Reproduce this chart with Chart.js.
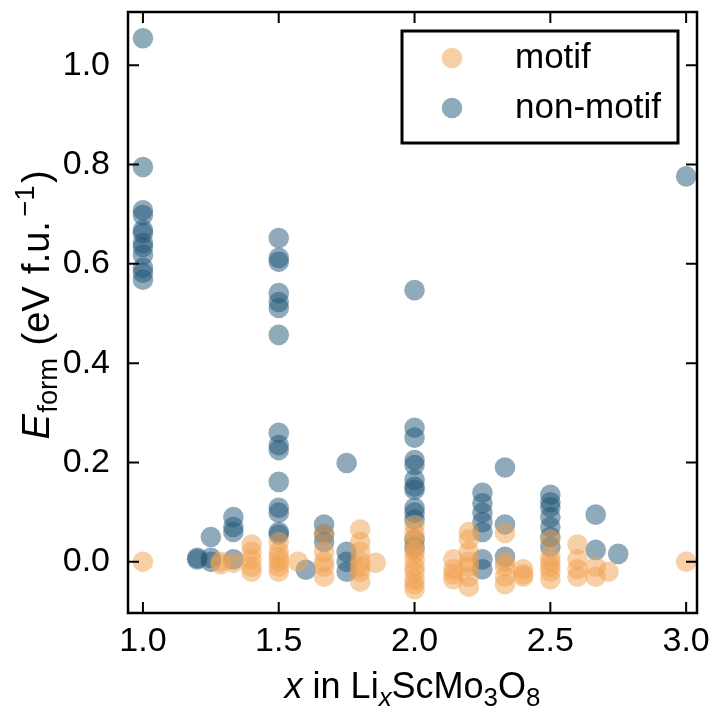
<!DOCTYPE html>
<html>
<head>
<meta charset="utf-8">
<script src="https://cdn.jsdelivr.net/npm/chart.js@4.4.1/dist/chart.umd.min.js"></script>
<style>
html,body{margin:0;padding:0;background:#fff;}
#wrap{width:709px;height:709px;position:relative;}
</style>
</head>
<body>
<div id="wrap"><canvas id="c" width="709" height="709"></canvas></div>
<script>
// ---- data ----
const motifX = [1.0, 1.286, 1.286, 1.333,
  1.4, 1.4, 1.4, 1.4, 1.4,
  1.5, 1.5, 1.5, 1.5, 1.5, 1.5,
  1.571,
  1.667, 1.667, 1.667, 1.667, 1.667,
  1.8, 1.8, 1.8, 1.8, 1.8, 1.8, 1.8,
  1.857,
  2.0, 2.0, 2.0, 2.0, 2.0, 2.0, 2.0, 2.0, 2.0, 2.0, 2.0,
  2.143, 2.143, 2.143, 2.143,
  2.2, 2.2, 2.2, 2.2, 2.2, 2.2, 2.2,
  2.333, 2.333, 2.333, 2.333, 2.333,
  2.4, 2.4, 2.4,
  2.5, 2.5, 2.5, 2.5, 2.5, 2.5,
  2.6, 2.6, 2.6, 2.6,
  2.667, 2.667,
  2.714,
  3.0];
const motifY = [0.0, 0.0, -0.005, -0.002,
  0.035, 0.02, 0.005, -0.01, -0.02,
  0.04, 0.02, 0.01, 0.0, -0.01, -0.02,
  0.0,
  0.055, 0.02, 0.0, -0.01, -0.03,
  0.065, 0.04, 0.02, 0.0, -0.01, -0.02, -0.04,
  -0.002,
  0.074, 0.058, 0.045, 0.025, 0.018, 0.004, -0.01, -0.02, -0.035, -0.045, -0.055,
  0.005, -0.015, -0.025, -0.035,
  0.06, 0.045, 0.02, 0.0, -0.01, -0.03, -0.05,
  0.058, 0.0, -0.01, -0.03, -0.045,
  -0.015, -0.025, -0.03,
  0.045, 0.01, 0.0, -0.01, -0.02, -0.035,
  0.035, 0.005, -0.015, -0.03,
  -0.01, -0.03,
  -0.02,
  0.0];

const nonMotifX = [1.0, 1.0, 1.0, 1.0, 1.0, 1.0, 1.0, 1.0, 1.0, 1.0, 1.0, 1.0,
  1.2, 1.2,
  1.25, 1.25, 1.25,
  1.333, 1.333, 1.333, 1.333,
  1.5, 1.5, 1.5, 1.5, 1.5, 1.5, 1.5, 1.5, 1.5, 1.5, 1.5, 1.5, 1.5, 1.5, 1.5,
  1.6,
  1.667, 1.667, 1.667,
  1.75, 1.75, 1.75, 1.75,
  2.0, 2.0, 2.0, 2.0, 2.0, 2.0, 2.0, 2.0, 2.0, 2.0, 2.0, 2.0, 2.0,
  2.25, 2.25, 2.25, 2.25, 2.25, 2.25, 2.25,
  2.333, 2.333, 2.333,
  2.5, 2.5, 2.5, 2.5, 2.5, 2.5, 2.5,
  2.667, 2.667,
  2.75,
  3.0];
const nonMotifY = [1.054, 0.795, 0.708, 0.698, 0.668, 0.662, 0.642, 0.634, 0.618, 0.592, 0.582, 0.568,
  0.005, 0.008,
  0.05, 0.008, 0.0,
  0.09, 0.07, 0.06, 0.005,
  0.652, 0.612, 0.604, 0.541, 0.523, 0.511, 0.457, 0.26, 0.235, 0.225, 0.161, 0.109, 0.099, 0.06, 0.055,
  -0.016,
  0.075, 0.055, 0.04,
  0.199, 0.02, 0.0, -0.02,
  0.547, 0.27, 0.25, 0.205, 0.195, 0.165, 0.151, 0.145, 0.109, 0.099, 0.085, 0.045, 0.03,
  0.139, 0.118, 0.099, 0.08, 0.06, 0.005, -0.015,
  0.19, 0.075, 0.01,
  0.135, 0.12, 0.11, 0.09, 0.07, 0.05, 0.03,
  0.095, 0.024,
  0.016,
  0.776];

const xTicks = [1.0, 1.5, 2.0, 2.5, 3.0];
const yTicks = [0.0, 0.2, 0.4, 0.6, 0.8, 1.0];
const seriesLabels = ['motif', 'non-motif'];

// ---- styling ----
const ORANGE = 'rgba(241,161,79,0.5)';
const BLUE = 'rgba(31,85,119,0.5)';
const FONT = '"Liberation Sans", Arial, Helvetica, sans-serif';
const TICK_SIZE = 34;
const TITLE_SIZE = 36;
const YTITLE_SIZE = 38;
const LEGEND_SIZE = 35;

function richText(ctx, segs, size, cx, cy) {
  // segs: [text, italic, 'sub'|'sup'|null, extraGapBefore]
  const parts = segs.map(([t, it, sc, gap]) => {
    const fs = sc ? size * 0.72 : size;
    const f = (it ? 'italic ' : '') + fs + 'px ' + FONT;
    ctx.font = f;
    return {t, f, g: (gap || 0) * size, w: ctx.measureText(t).width,
            dy: sc === 'sub' ? size * 0.22 : (sc === 'sup' ? -size * 0.4 : 0)};
  });
  const total = parts.reduce((a, p) => a + p.w + p.g, 0);
  let x = cx - total / 2;
  ctx.textBaseline = 'alphabetic';
  ctx.textAlign = 'left';
  ctx.fillStyle = '#000';
  parts.forEach(p => { x += p.g; ctx.font = p.f; ctx.fillText(p.t, x, cy + p.dy); x += p.w; });
}

const zeroPad = s => { s.paddingTop = 0; s.paddingBottom = 0; s.paddingLeft = 0; s.paddingRight = 0; };

const decor = {
  id: 'decor',
  afterDatasetsDraw(chart) {
    const {ctx, chartArea: a, scales: {x, y}} = chart;
    ctx.save();
    ctx.strokeStyle = '#000';
    ctx.lineWidth = 2;
    const L = 11;
    ctx.beginPath();
    xTicks.forEach(v => {
      const px = x.getPixelForValue(v);
      ctx.moveTo(px, a.bottom); ctx.lineTo(px, a.bottom - L);
      ctx.moveTo(px, a.top); ctx.lineTo(px, a.top + L);
    });
    yTicks.forEach(v => {
      const py = y.getPixelForValue(v);
      ctx.moveTo(a.left, py); ctx.lineTo(a.left + L, py);
      ctx.moveTo(a.right, py); ctx.lineTo(a.right - L, py);
    });
    ctx.stroke();
    ctx.lineWidth = 2.5;
    ctx.strokeRect(a.left, a.top, a.right - a.left, a.bottom - a.top);

    // legend
    const lx = 402, ly = 31, lw = 276, lh = 112;
    ctx.fillStyle = '#fff';
    ctx.fillRect(lx, ly, lw, lh);
    ctx.lineWidth = 3;
    ctx.strokeRect(lx, ly, lw, lh);
    const cols = [ORANGE, BLUE];
    seriesLabels.forEach((lab, i) => {
      const cy = 58 + i * 50;
      ctx.fillStyle = cols[i];
      ctx.beginPath(); ctx.arc(452, cy, 10.3, 0, Math.PI * 2); ctx.fill();
      ctx.fillStyle = '#000';
      ctx.font = LEGEND_SIZE + 'px ' + FONT;
      ctx.textBaseline = 'middle';
      ctx.textAlign = 'left';
      ctx.fillText(lab, 515, cy);
    });

    richText(ctx, [['x', true, null], [' in Li', false, null], ['x', true, 'sub'], ['ScMo', false, null], ['3', false, 'sub'], ['O', false, null], ['8', false, 'sub']],
      TITLE_SIZE, (a.left + a.right) / 2, 698);
    ctx.save();
    ctx.translate(49, 305);
    ctx.rotate(-Math.PI / 2);
    richText(ctx, [['E', true, null], ['form', false, 'sub', 0.04], [' (eV', false, null, 0.05], [' f.u.', false, null, 0.05],
                   ['\u22121', false, 'sup', 0.12], [')', false, null, 0.06]],
      YTITLE_SIZE, 0, 0);
    ctx.restore();
    ctx.restore();
  }
};

new Chart(document.getElementById('c'), {
  type: 'scatter',
  data: {
    datasets: [
      {label: seriesLabels[0], data: motifX.map((v, i) => ({x: v, y: motifY[i]})),
       backgroundColor: ORANGE, borderWidth: 0, pointRadius: 10.3, pointHoverRadius: 10.3},
      {label: seriesLabels[1], data: nonMotifX.map((v, i) => ({x: v, y: nonMotifY[i]})),
       backgroundColor: BLUE, borderWidth: 0, pointRadius: 10.3, pointHoverRadius: 10.3}
    ]
  },
  options: {
    responsive: false,
    animation: false,
    devicePixelRatio: 1,
    layout: {autoPadding: false, padding: {left: 0, top: 12, right: 12, bottom: 0}},
    plugins: {legend: {display: false}, tooltip: {enabled: false}},
    scales: {
      x: {
        type: 'linear', min: 0.945, max: 3.04,
        grid: {display: false, drawTicks: false},
        border: {display: false},
        afterBuildTicks: s => { s.ticks = xTicks.map(v => ({value: v})); },
        afterFit: s => { s.height = 96; zeroPad(s); },
        ticks: {color: '#000', padding: 8, font: {family: FONT, size: TICK_SIZE}, maxRotation: 0,
                callback: v => Number(v).toFixed(1)}
      },
      y: {
        type: 'linear', min: -0.103, max: 1.107,
        grid: {display: false, drawTicks: false},
        border: {display: false},
        afterBuildTicks: s => { s.ticks = yTicks.map(v => ({value: v})); },
        afterFit: s => { s.width = 128; zeroPad(s); },
        ticks: {color: '#000', padding: 18, font: {family: FONT, size: TICK_SIZE},
                callback: v => Number(v).toFixed(1)}
      }
    }
  },
  plugins: [decor]
});
</script>
</body>
</html>
